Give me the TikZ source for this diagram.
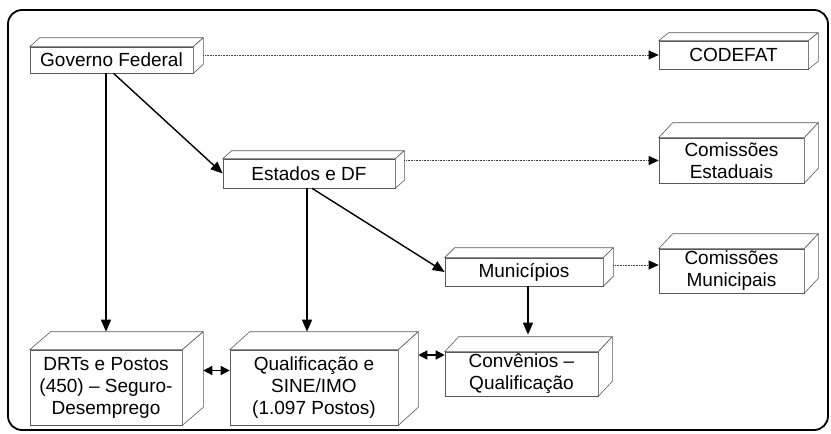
\documentclass[tikz,border=0pt]{standalone}
\usepackage{fontspec}
\setmainfont{Liberation Sans}
\usetikzlibrary{arrows.meta}
\tikzset{box/.style={draw=black!65, line width=0.6pt, fill=white, align=center, inner sep=0pt, font=\fontsize{19}{22}\selectfont}}
\tikzset{face/.style={draw=black!65, line width=0.6pt, fill=white, line join=round}}
\tikzstyle{arrow} = [line width=1.4pt,-{Triangle[length=12pt,width=10pt]}]
\tikzstyle{dotarrow} = [line width=0.9pt, black!75, dash pattern=on 1pt off 0.6pt,-{Triangle[length=10pt,width=9pt,color=black]}]
\tikzstyle{twoway} = [line width=1.4pt,{Triangle[length=9pt,width=9pt]}-{Triangle[length=9pt,width=9pt]}]

\begin{document}
\begin{tikzpicture}[x=1pt,y=-1pt]
\useasboundingbox (0,0) rectangle (831,434);
\draw[line width=1.8pt, rounded corners=14pt] (8,10) rectangle (828,430);

% front faces
\node[box, minimum width=163pt, minimum height=26pt] (gov) at (111.5,60) {Governo Federal};
\node[box, minimum width=149pt, minimum height=28pt] (codefat) at (733.5,55) {CODEFAT};
\node[box, minimum width=172pt, minimum height=29pt] (estados) at (309,173.5) {Estados e DF};
\node[box, minimum width=145pt, minimum height=45pt] (comest) at (731.5,160.5) {Comissões\\Estaduais};
\node[box, minimum width=158pt, minimum height=28pt] (mun) at (524,272) {Municípios};
\node[box, minimum width=145pt, minimum height=44pt] (commun) at (731.5,271) {Comissões\\Municipais};
\node[box, minimum width=152pt, minimum height=75pt] (drts) at (106,387.5) {DRTs e Postos\\(450) -- Seguro-\\Desemprego};
\node[box, minimum width=168pt, minimum height=75pt] (qual) at (314,387.5) {Qualificação e\\SINE/IMO\\(1.097 Postos)};
\node[box, minimum width=153pt, minimum height=44pt] (conv) at (521.5,374) {Convênios --\\Qualificação};

% depth of each box
\foreach \n/\dx/\dy in {gov/10/9, codefat/10/8, estados/9/8, comest/14/15, mun/10/10, commun/14/15, drts/21/18, qual/20/18, conv/14/15}{
  \draw[face] (\n.north west) -- ++(\dx,-\dy) -- ([shift={(\dx,-\dy)}]\n.north east) -- (\n.north east) -- cycle;
  \draw[face] (\n.north east) -- ([shift={(\dx,-\dy)}]\n.north east) -- ([shift={(\dx,-\dy)}]\n.south east) -- (\n.south east) -- cycle;
  \coordinate (\n-side) at ([xshift=\dx pt]\n.east);
  \coordinate (\n-top) at ([yshift=\dy pt]\n.north);
}

\draw[arrow] (gov.south -| drts.north) -- (drts-top);
\draw[arrow] ([xshift=2pt]gov.south) -- (estados.west);
\draw[arrow] (estados.south -| 307,0) -- (307,0 |- qual-top);
\draw[arrow] ([xshift=3pt]estados.south) -- (mun.west);
\draw[arrow] ([xshift=4pt]mun.south) -- ([xshift=4pt,yshift=2pt]mun.south |- conv-top);

\draw[dotarrow] (gov-side |- codefat.west) -- (codefat.west);
\draw[dotarrow] (estados-side |- comest.west) -- (comest.west);
\draw[dotarrow] ([yshift=6pt]mun-side |- commun.west) -- ([yshift=6pt]commun.west);

\draw[twoway] ([yshift=17pt]drts-side |- qual.west) -- ([yshift=17pt]qual.west);
\draw[twoway] ([yshift=19pt]qual-side |- conv.west) -- ([yshift=19pt]conv.west);
\end{tikzpicture}
\end{document}
